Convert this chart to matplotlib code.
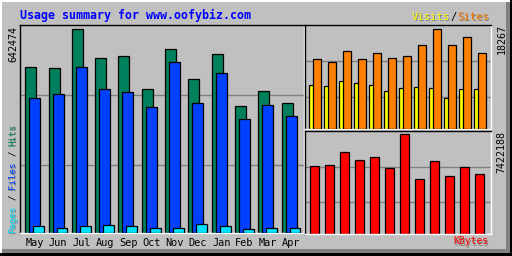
import numpy as np
import matplotlib.pyplot as plt
from matplotlib.patches import Rectangle

months = ["May", "Jun", "Jul", "Aug", "Sep", "Oct", "Nov", "Dec", "Jan", "Feb", "Mar", "Apr"]
hits = [522400, 519250, 642474, 550850, 557170, 452890, 579280, 484490, 563490, 399180, 446570, 408660]
files = [424450, 437090, 522400, 452890, 443410, 396020, 538200, 408650, 503450, 358100, 402330, 367580]
pages = [21060, 16850, 21060, 24220, 21060, 16850, 16850, 27380, 21060, 13690, 16850, 16850]
visits = [8077, 7891, 8823, 8450, 8077, 6959, 7518, 7704, 7518, 5654, 7331, 7331]
sites = [12861, 12364, 14352, 12861, 13980, 13048, 13420, 15347, 18267, 15471, 16776, 13980]
kbytes = [5074300, 5150000, 6134600, 5528700, 5755900, 4922800, 7422188, 4089700, 5452900, 4316900, 4998500, 4468400]

GRAY = "#C0C0C0"
MONO = "DejaVu Sans Mono"
W, H = 512, 256

fig = plt.figure(figsize=(W / 100, H / 100), dpi=100, facecolor=GRAY)

# background axes in pixel coordinates (for frame and labels)
bg = fig.add_axes([0, 0, 1, 1], zorder=0)
bg.set_xlim(0, W)
bg.set_ylim(H, 0)
bg.axis("off")
bg.add_patch(Rectangle((0, 0), W, 1.5, color="white", lw=0))
bg.add_patch(Rectangle((0, 0), 1.5, H, color="white", lw=0))
bg.add_patch(Rectangle((506, 1.5), 4, 252, color="#808080", lw=0))
bg.add_patch(Rectangle((1.5, 249), 508, 4, color="#808080", lw=0))
bg.add_patch(Rectangle((510, 0), 2, H, color="black", lw=0))
bg.add_patch(Rectangle((0, 253), W, 3, color="black", lw=0))


def panel(x0, y0, x1, y1):
    ax = fig.add_axes([x0 / W, (H - y1) / H, (x1 - x0) / W, (y1 - y0) / H], zorder=1)
    ax.set_facecolor(GRAY)
    ax.spines["top"].set_color("black")
    ax.spines["left"].set_color("black")
    ax.spines["bottom"].set_color("white")
    ax.spines["right"].set_color("white")
    for s in ax.spines.values():
        s.set_linewidth(1.0)
    ax.set_yticks([])
    ax.set_xticks([])
    return ax


def grid(ax, top, fracs):
    for f in fracs:
        ax.axhline(top * f, color="#808080", lw=1.0, zorder=0)


idx = np.arange(len(months))

# main panel: hits / files / pages
ax1 = panel(20, 25, 304, 233)
top1 = max(hits) * 208 / 203.7
ax1.set_ylim(0, top1)
ax1.set_xlim(-0.227, -0.227 + 284 / 23.3)
grid(ax1, top1, [0.325, 0.662])
bw = 0.47
ax1.bar(idx, hits, bw, align="edge", color="#00805C", edgecolor="black", lw=0.9, zorder=2)
ax1.bar(idx + 0.17, files, bw, align="edge", color="#0040FF", edgecolor="black", lw=0.9, zorder=3)
ax1.bar(idx + 0.34, pages, bw, align="edge", color="#00E0FF", edgecolor="black", lw=0.9, zorder=4)
ax1.set_xticks(idx + 0.41)
ax1.set_xticklabels(months, family=MONO, fontsize=7.4, color="black")
ax1.tick_params(axis="x", length=0, pad=3.4)

# top right: visits / sites
ax2 = panel(305, 25, 491, 129)
top2 = max(sites) * 104 / 99.7
ax2.set_ylim(0, top2)
ax2.set_xlim(-0.287, -0.287 + 186 / 15)
grid(ax2, top2, [0.31, 0.65])
ax2.bar(idx, visits, 0.49, align="edge", color="#FFFF00", edgecolor="black", lw=0.9, zorder=2)
ax2.bar(idx + 0.27, sites, 0.49, align="edge", color="#FF8000", edgecolor="black", lw=0.9, zorder=3)

# bottom right: kbytes
ax3 = panel(305, 131, 491, 234)
top3 = max(kbytes) * 103 / 99.7
ax3.set_ylim(0, top3)
ax3.set_xlim(-0.333, -0.333 + 186 / 15)
grid(ax3, top3, [0.31, 0.65])
ax3.bar(idx, kbytes, 0.62, align="edge", color="#FF0000", edgecolor="black", lw=0.9, zorder=2)


def label(x, y, s, color, size, shadow=True, **kw):
    if shadow:
        bg.text(x + 1, y + 1, s, color="#808080", family=MONO, fontsize=size, **kw)
    bg.text(x, y, s, color=color, family=MONO, fontsize=size, **kw)


# title and legends
label(20, 15, "Usage summary for www.oofybiz.com", "#0000FF", 8.4, shadow=False,
      fontweight="bold", va="center", ha="left")
label(412, 17, "Visits", "#FFFF00", 7.6, va="center", ha="left")
label(450.5, 17, "/", "black", 7.6, shadow=False, va="center", ha="left")
label(457, 17, "Sites", "#FF8000", 7.6, va="center", ha="left")
label(489, 241.5, "KBytes", "#FF0000", 7.0, va="center", ha="right")

# max values
label(13, 26, f"{max(hits)}", "black", 7.2, shadow=False, rotation=90, ha="center", va="top")
label(501.5, 24, f"{max(sites)}", "black", 7.2, shadow=False, rotation=90, ha="center", va="top")
label(501.5, 131, f"{max(kbytes)}", "black", 7.2, shadow=False, rotation=90, ha="center", va="top")

# rotated series label on the left
parts = [("Pages", "#00E0FF"), (" / ", None), ("Files", "#0040FF"), (" / ", None), ("Hits", "#00805C")]
cw = 5.45
pos = 0
for txt, col in parts:
    if col is None:
        label(12.5, 232.7 - (pos + 1) * cw, "/", "black", 6.6, shadow=False,
              rotation=90, ha="center", va="bottom")
    else:
        label(12.5, 232.7 - pos * cw, txt, col, 6.6, rotation=90, ha="center", va="bottom")
    pos += len(txt)

fig.savefig("out.png", dpi=100, facecolor=GRAY)
